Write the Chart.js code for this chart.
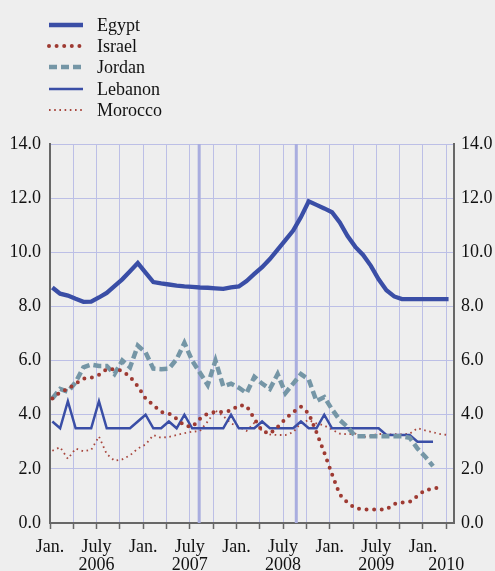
<!DOCTYPE html>
<html>
<head>
<meta charset="utf-8">
<script src="https://cdn.jsdelivr.net/npm/chart.js@4.4.1/dist/chart.umd.min.js"></script>
<style>
  body { margin: 0; background: #eeeeee; }
  #wrap { position: relative; width: 495px; height: 571px; }
  #legend { position: absolute; left: 0; top: 0; font-family: "Liberation Serif", serif; font-size: 18px; color: #111; }
  .row { position: absolute; left: 47px; height: 20px; width: 200px; }
  .row svg { position: absolute; left: 0; top: 5px; }
  .row span { position: absolute; left: 50px; top: 0; line-height: 20px; white-space: nowrap; }
</style>
</head>
<body>
<div id="wrap">
  <canvas id="myChart" width="495" height="571"></canvas>
  <div id="legend"></div>
</div>
<script>
// monthly values, Jan. 2006 = index 0
var egypt = [8.7, 8.47, 8.4, 8.28, 8.17, 8.18, 8.33, 8.5, 8.75, 9.0, 9.3, 9.6,
    9.25, 8.9, 8.85, 8.81, 8.77, 8.74, 8.72, 8.7, 8.69, 8.67, 8.65, 8.7,
    8.74, 8.94, 9.2, 9.45, 9.75, 10.1, 10.45, 10.8, 11.3, 11.88, 11.75, 11.62,
    11.48, 11.1, 10.6, 10.2, 9.9, 9.5, 9.0, 8.6, 8.37, 8.27, 8.27, 8.27,
    8.27, 8.27, 8.27, 8.27];
var israel = [4.6, 4.83, 4.95, 5.15, 5.33, 5.37, 5.47, 5.68, 5.68, 5.62, 5.4, 5.05,
    4.6, 4.35, 4.1, 4.05, 3.85, 3.6, 3.55, 3.85, 4.05, 4.1, 4.1, 4.15,
    4.35, 4.32, 3.85, 3.4, 3.3, 3.55, 3.85, 4.1, 4.3, 4.05, 3.35, 2.6,
    1.8, 1.05, 0.75, 0.55, 0.5, 0.5, 0.5, 0.5, 0.7, 0.76, 0.78, 1.0,
    1.22, 1.25, 1.35];
var jordan = [4.6, 4.95, 4.85, 5.2, 5.75, 5.85, 5.8, 5.8, 5.5, 6.0, 5.75, 6.55,
    6.3, 5.7, 5.68, 5.7, 6.05, 6.65, 6.0, 5.55, 5.1, 6.0, 5.05, 5.15,
    5.0, 4.8, 5.4, 5.15, 4.95, 5.5, 4.8, 5.15, 5.5, 5.3, 4.5, 4.65,
    4.2, 3.8, 3.55, 3.2, 3.2, 3.2, 3.2, 3.2, 3.2, 3.2, 3.15, 2.75,
    2.45, 2.1];
var lebanon = [3.75, 3.5, 4.5, 3.5, 3.5, 3.5, 4.5, 3.5, 3.5, 3.5, 3.5, 3.75,
    4.0, 3.5, 3.5, 3.75, 3.5, 4.0, 3.5, 3.5, 3.5, 3.5, 3.5, 4.0,
    3.5, 3.5, 3.5, 3.75, 3.5, 3.5, 3.5, 3.5, 3.75, 3.5, 3.5, 4.0,
    3.5, 3.5, 3.5, 3.5, 3.5, 3.5, 3.5, 3.25, 3.25, 3.25, 3.25, 3.0,
    3.0, 3.0];
var morocco = [2.67, 2.8, 2.37, 2.75, 2.65, 2.7, 3.2, 2.55, 2.3, 2.35, 2.5, 2.75,
    2.9, 3.25, 3.15, 3.18, 3.25, 3.32, 3.37, 3.4, 3.75, 4.15, 3.95, 3.68,
    3.55, 3.4, 3.7, 3.4, 3.27, 3.25, 3.25, 3.35, 3.7, 3.8, 3.68, 3.6,
    3.45, 3.3, 3.28, 3.3, 3.17, 3.22, 3.3, 3.26, 3.28, 3.27, 3.3, 3.5,
    3.42, 3.35, 3.28, 3.25];

// quarterly ticks, from Jan. 2006 to Apr. 2010
var tickLabels = [
    ['Jan.', ''], '', ['July', '2006'], '',
    ['Jan.', ''], '', ['July', '2007'], '',
    ['Jan.', ''], '', ['July', '2008'], '',
    ['Jan.', ''], '', ['July', '2009'], '',
    ['Jan.', ''], ['', '2010']
];
var yTicks = [0, 2, 4, 6, 8, 10, 12, 14];
var eventLines = [18.9, 31.4]; // Aug. 2007, Aug. 2008

var serif = '"Liberation Serif", "Times New Roman", serif';
var gridColor = '#bcbfe6';
var axisColor = '#676767';

function pts(values) {
    return values.map(function (v, i) { return { x: i, y: v }; });
}

var series = [
    { label: 'Egypt', data: egypt, color: '#3a4ea6', width: 4.3, dash: [], cap: 'butt' },
    { label: 'Israel', data: israel, color: '#9e3a32', width: 4, dash: [0, 7.6], cap: 'round' },
    { label: 'Jordan', data: jordan, color: '#7596a6', width: 4.5, dash: [8, 4], cap: 'butt' },
    { label: 'Lebanon', data: lebanon, color: '#3a4ea6', width: 2.5, dash: [], cap: 'butt' },
    { label: 'Morocco', data: morocco, color: '#a8473e', width: 1.8, dash: [1.6, 3.6], cap: 'butt' }
];

var eventLinePlugin = {
    id: 'eventLines',
    beforeDatasetsDraw: function (chart) {
        var ctx = chart.ctx;
        var area = chart.chartArea;
        var xs = chart.scales.x;
        ctx.save();
        ctx.strokeStyle = '#a9addf';
        ctx.lineWidth = 3;
        eventLines.forEach(function (m) {
            var px = xs.getPixelForValue(m);
            ctx.beginPath();
            ctx.moveTo(px, area.top);
            ctx.lineTo(px, area.bottom);
            ctx.stroke();
        });
        ctx.restore();
    }
};

function yAxis(pos, w, pad) {
    return {
        position: pos,
        min: 0,
        max: 14,
        afterBuildTicks: function (scale) {
            scale.ticks = yTicks.map(function (v) { return { value: v }; });
        },
        afterFit: function (scale) { scale.width = w; },
        ticks: {
            padding: pad,
            color: '#111',
            font: { family: serif, size: 18 },
            callback: function (v) { return v.toFixed(1); }
        },
        grid: { color: gridColor, drawTicks: false, drawOnChartArea: pos === 'left' },
        border: { color: axisColor, width: 2 }
    };
}

function createLineChart() {
    var ctx = document.getElementById('myChart').getContext('2d');
    var myChart = new Chart(ctx, {
        type: 'line',
        data: {
            datasets: series.map(function (s) {
                return {
                    label: s.label,
                    data: pts(s.data),
                    borderColor: s.color,
                    borderWidth: s.width,
                    borderDash: s.dash,
                    borderCapStyle: s.cap,
                    pointRadius: 0,
                    tension: 0,
                    fill: false,
                    yAxisID: 'y'
                };
            })
        },
        options: {
            responsive: false,
            animation: false,
            layout: { padding: { top: 144, left: 0, right: 0, bottom: 0 } },
            plugins: { legend: { display: false }, tooltip: { enabled: false } },
            scales: {
                x: {
                    type: 'linear',
                    min: -0.3,
                    max: 51.7,
                    afterBuildTicks: function (scale) {
                        scale.ticks = tickLabels.map(function (l, k) { return { value: 3 * k - 0.3 }; });
                    },
                    afterFit: function (scale) { scale.height = 48; },
                    ticks: {
                        autoSkip: false,
                        maxRotation: 0,
                        padding: 9,
                        color: '#111',
                        font: { family: serif, size: 18, lineHeight: 1.0 },
                        callback: function (v, i) { return tickLabels[i]; }
                    },
                    grid: { color: gridColor, tickColor: axisColor, tickLength: 6, tickWidth: 1.5 },
                    border: { color: axisColor, width: 2 }
                },
                y: yAxis('left', 50, 9),
                y2: yAxis('right', 41, 7)
            }
        },
        plugins: [eventLinePlugin]
    });
    return myChart;
}

function createLegend() {
    var box = document.getElementById('legend');
    series.forEach(function (s, i) {
        var row = document.createElement('div');
        row.className = 'row';
        row.style.top = (14.5 + i * 21.4) + 'px';
        var dash = s.dash.length ? ' stroke-dasharray="' + s.dash.join(' ') + '"' : '';
        row.innerHTML = '<svg width="38" height="10"><line x1="2" y1="5" x2="36" y2="5" stroke="' + s.color +
            '" stroke-width="' + s.width + '" stroke-linecap="' + s.cap + '"' + dash + '/></svg>' +
            '<span>' + s.label + '</span>';
        box.appendChild(row);
    });
}

createLineChart();
createLegend();
</script>
</body>
</html>
